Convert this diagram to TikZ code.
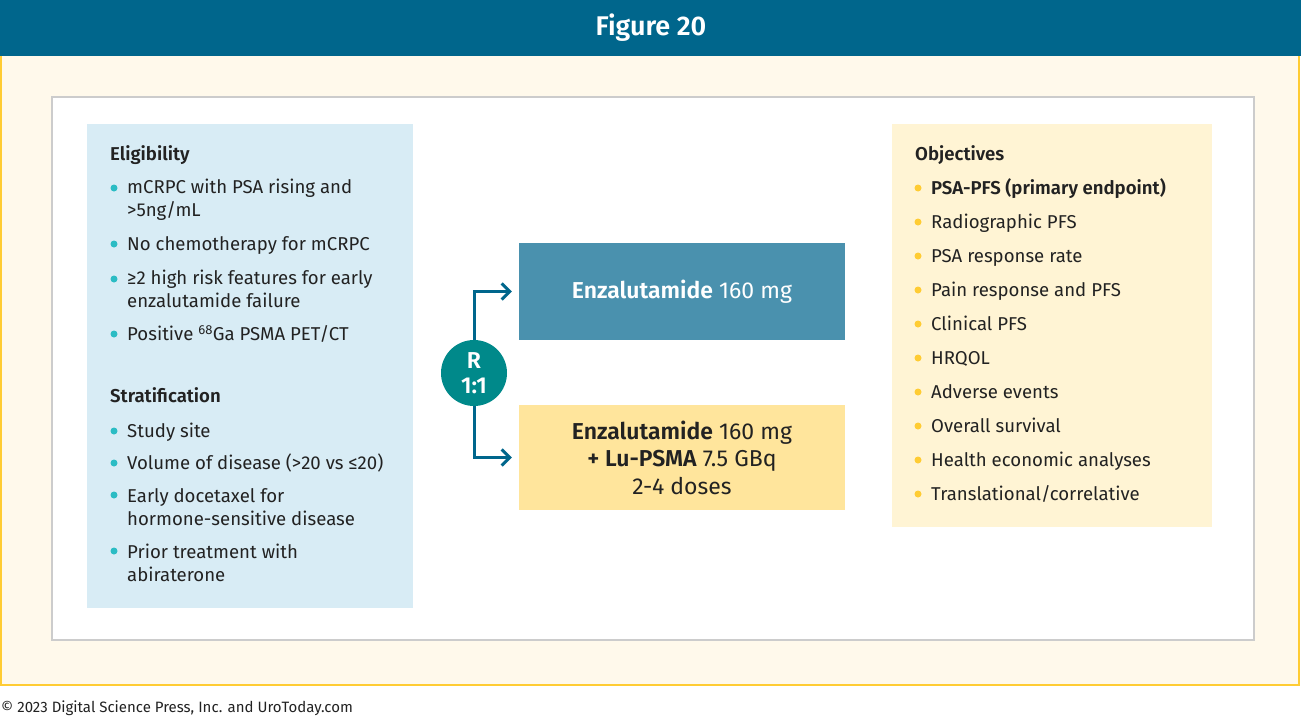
\documentclass[tikz,border=0pt]{standalone}
\usepackage{fontspec}
\setmainfont{Fira Sans}[BoldFont={Fira Sans SemiBold}]
\usetikzlibrary{arrows.meta}
\definecolor{hdr}{RGB}{0,102,140}
\definecolor{cream}{RGB}{255,249,235}
\definecolor{goldline}{RGB}{255,204,51}
\definecolor{greyline}{RGB}{204,204,204}
\definecolor{lblue}{RGB}{216,236,245}
\definecolor{lyel}{RGB}{255,244,212}
\definecolor{armblue}{RGB}{74,145,174}
\definecolor{armyel}{RGB}{255,229,156}
\definecolor{teal}{RGB}{0,137,138}
\definecolor{cyanb}{RGB}{43,188,196}
\definecolor{yelb}{RGB}{255,204,51}
\definecolor{txt}{RGB}{34,34,34}
\tikzset{
  itemtext/.style={anchor=base west, inner sep=0pt, align=left, text=txt, font=\fontsize{18.6}{23}\selectfont},
  headtext/.style={anchor=base west, inner sep=0pt, text=txt, font=\fontsize{18.6}{23}\selectfont\bfseries},
  bluedot/.style={circle, fill=cyanb, inner sep=0pt, minimum size=7pt},
  yeldot/.style={circle, fill=yelb, inner sep=0pt, minimum size=7pt},
  armbox/.style={rectangle, inner sep=0pt, minimum width=326pt, align=center, font=\fontsize{23}{27.5}\selectfont},
  arr/.style={draw=hdr, line width=3pt, -{Straight Barb[length=8pt,width=16pt,line width=3pt]}, shorten >=7pt},
}
\begin{document}
\begin{tikzpicture}[x=1pt,y=-1pt]
\useasboundingbox (0,0) rectangle (1301,718);
\fill[white] (0,0) rectangle (1301,718);
% header
\fill[hdr] (0,0) rectangle (1301,56);
\node[text=white, font=\fontsize{27}{30}\selectfont\bfseries] (title) at (651,28) {Figure 20};
% outer frame
\draw[goldline, line width=2pt, fill=cream] (1,56) -- (1,685) -- (1299,685) -- (1299,56);
% white panel
\draw[greyline, line width=1.3pt, fill=white] (52,97) rectangle (1254,640);
% side boxes
\fill[lblue] (87,124) rectangle (413,608);
\fill[lyel] (892,124) rectangle (1212,527);
% left box content (multi-line nodes: base = last line)
\node[headtext] (elig) at (110,160.5) {Eligibility};
\node[bluedot] (b1) at (114,188) {};
\node[itemtext] (e1) at (127,216.5) {mCRPC with PSA rising and\\>5ng/mL};
\node[bluedot] (b2) at (114,244) {};
\node[itemtext] (e2) at (127,250.5) {No chemotherapy for mCRPC};
\node[bluedot] (b3) at (114,279) {};
\node[itemtext] (e3) at (127,307.5) {≥2 high risk features for early\\enzalutamide failure};
\node[bluedot] (b4) at (114,334) {};
\node[itemtext] (e4) at (127,340.5) {Positive \textsuperscript{68}Ga PSMA PET/CT};
\node[headtext] (strat) at (110,402.5) {Stratification};
\node[bluedot] (b5) at (114,431) {};
\node[itemtext] (s1) at (127,437.5) {Study site};
\node[bluedot] (b6) at (114,463) {};
\node[itemtext] (s2) at (127,469.5) {Volume of disease (>20 vs ≤20)};
\node[bluedot] (b7) at (114,495) {};
\node[itemtext] (s3) at (127,525) {Early docetaxel for\\hormone-sensitive disease};
\node[bluedot] (b8) at (114,551) {};
\node[itemtext] (s4) at (127,581) {Prior treatment with\\abiraterone};
% arms
\node[armbox, fill=armblue, text=white, minimum height=97pt] (armA) at (682,291.5) {\textbf{Enzalutamide} 160 mg};
\node[armbox, fill=armyel, text=txt, minimum height=105pt] (armB) at (682,457.5) {\textbf{Enzalutamide} 160 mg\\\textbf{+ Lu-PSMA} 7.5 GBq\\2-4 doses};
\node[circle, fill=teal, text=white, minimum size=66pt, inner sep=0pt, align=center, font=\fontsize{23}{25}\selectfont\bfseries] (R) at (474,373) {R\\1:1};
\draw[arr] (R.north) |- (armA.west);
\draw[arr] (R.south) |- (armB.west);
% objectives
\node[headtext] (obj) at (915,160.5) {Objectives};
\node[yeldot] (o1d) at (918,188) {};
\node[headtext] (o1) at (931,194.5) {PSA-PFS (primary endpoint)};
\node[yeldot] (o2d) at (918,222) {};
\node[itemtext] (o2) at (931,228.5) {Radiographic PFS};
\node[yeldot] (o3d) at (918,256) {};
\node[itemtext] (o3) at (931,262.5) {PSA response rate};
\node[yeldot] (o4d) at (918,290) {};
\node[itemtext] (o4) at (931,296.5) {Pain response and PFS};
\node[yeldot] (o5d) at (918,324) {};
\node[itemtext] (o5) at (931,330.5) {Clinical PFS};
\node[yeldot] (o6d) at (918,358) {};
\node[itemtext] (o6) at (931,364.5) {HRQOL};
\node[yeldot] (o7d) at (918,392) {};
\node[itemtext] (o7) at (931,398.5) {Adverse events};
\node[yeldot] (o8d) at (918,426) {};
\node[itemtext] (o8) at (931,432.5) {Overall survival};
\node[yeldot] (o9d) at (918,460) {};
\node[itemtext] (o9) at (931,466.5) {Health economic analyses};
\node[yeldot] (o10d) at (918,494) {};
\node[itemtext] (o10) at (931,500.5) {Translational/correlative};
% footer
\node[anchor=base west, inner sep=0pt, text=txt, font=\fontsize{15}{17}\selectfont] (foot) at (1,712) {© 2023 Digital Science Press, Inc. and UroToday.com};
\end{tikzpicture}
\end{document}
